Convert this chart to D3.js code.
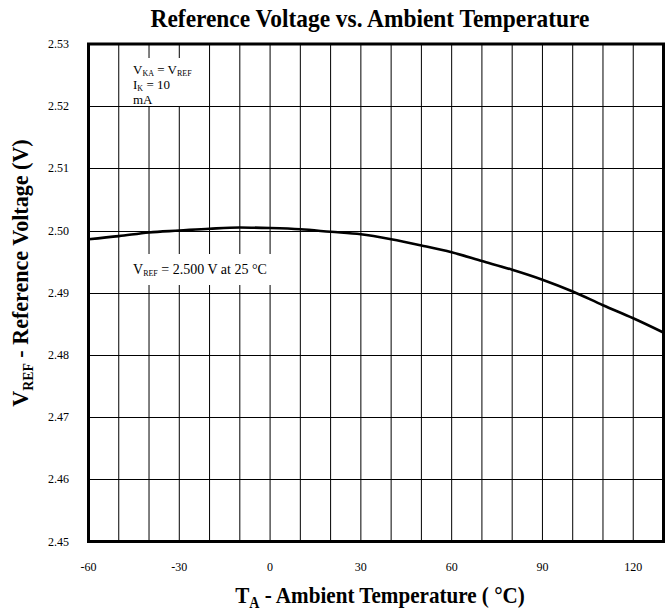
<!DOCTYPE html>
<html>
<head>
<meta charset="utf-8">
<script src="https://cdn.jsdelivr.net/npm/d3@7"></script>
<style>
  body { margin: 0; background: #fff; }
  svg { display: block; }
  text { font-family: 'Liberation Serif', 'DejaVu Serif', serif; }
</style>
</head>
<body>
<svg id="chart" width="671" height="611"></svg>
<script>
// temperature (°C) and reference voltage (V)
const temps = [-60, -50, -40, -30, -20, -10, 0, 10, 20, 30, 40, 50, 60, 70, 80, 90, 100, 110, 120, 130];
const vref = [2.4986, 2.4991, 2.4997, 2.5000, 2.5003, 2.5005, 2.5004, 2.5002, 2.4998, 2.4994,
              2.4986, 2.4976, 2.4965, 2.4951, 2.4937, 2.4921, 2.4902, 2.4880, 2.4859, 2.4836];

const xTicks = [-60, -30, 0, 30, 60, 90, 120];
const yTicks = [2.45, 2.46, 2.47, 2.48, 2.49, 2.50, 2.51, 2.52, 2.53];
const xGrid = d3.range(-60, 131, 10);

const mLeft = 88.5, mTop = 44, w = 575, h = 497.5;
const serif = "'Liberation Serif', 'DejaVu Serif', serif";

const svg = d3.select('#chart').attr('font-family', serif);

const x = d3.scaleLinear().domain([-60, 130]).range([mLeft, mLeft + w]);
const y = d3.scaleLinear().domain([2.45, 2.53]).range([mTop + h, mTop]);

// grid
svg.append('g')
  .selectAll('line')
  .data(xGrid)
  .enter().append('line')
  .attr('x1', d => x(d)).attr('x2', d => x(d))
  .attr('y1', mTop).attr('y2', mTop + h)
  .attr('stroke', '#000').attr('stroke-width', 1);

svg.append('g')
  .selectAll('line')
  .data(yTicks)
  .enter().append('line')
  .attr('x1', mLeft).attr('x2', mLeft + w)
  .attr('y1', d => Math.round(y(d)) + 0.5).attr('y2', d => Math.round(y(d)) + 0.5)
  .attr('stroke', '#000').attr('stroke-width', 1);

// white boxes behind the notes
svg.append('rect').attr('x', 121).attr('y', 58).attr('width', 78).attr('height', 48).attr('fill', '#fff');
svg.append('rect').attr('x', 122).attr('y', 254).attr('width', 160).attr('height', 31).attr('fill', '#fff');

// curve
const line = d3.line()
  .x((d, i) => x(temps[i]))
  .y(d => y(d))
  .curve(d3.curveMonotoneX);

svg.append('path')
  .datum(vref)
  .attr('d', line)
  .attr('fill', 'none')
  .attr('stroke', '#000')
  .attr('stroke-width', 2.6);

// frame
svg.append('rect')
  .attr('x', mLeft).attr('y', mTop).attr('width', w).attr('height', h)
  .attr('fill', 'none').attr('stroke', '#000').attr('stroke-width', 3);

// tick labels
svg.append('g')
  .selectAll('text')
  .data(yTicks)
  .enter().append('text')
  .attr('x', 69).attr('y', d => y(d) + 4)
  .attr('text-anchor', 'end')
  .attr('font-size', 12)
  .text(d => d.toFixed(2));

svg.append('g')
  .selectAll('text')
  .data(xTicks)
  .enter().append('text')
  .attr('x', d => x(d)).attr('y', 571)
  .attr('text-anchor', 'middle')
  .attr('font-size', 12)
  .text(d => d);

// titles (the original uses a narrow bold serif, so squeeze a little)
svg.append('text')
  .attr('transform', 'translate(370,27) scale(0.9,1)')
  .attr('text-anchor', 'middle')
  .attr('font-size', 26).attr('font-weight', 'bold')
  .text('Reference Voltage vs. Ambient Temperature');

const xt = svg.append('text')
  .attr('transform', 'translate(380,603) scale(0.88,1)')
  .attr('text-anchor', 'middle')
  .attr('font-size', 24).attr('font-weight', 'bold');
xt.append('tspan').text('T');
xt.append('tspan').attr('font-size', 16).attr('dy', 5).text('A');
xt.append('tspan').attr('dy', -5).text(' - Ambient Temperature ( °C)');

const yt = svg.append('text')
  .attr('transform', 'translate(28,273) rotate(-90) scale(0.92,1)')
  .attr('text-anchor', 'middle')
  .attr('font-size', 24).attr('font-weight', 'bold');
yt.append('tspan').text('V');
yt.append('tspan').attr('font-size', 15).attr('dy', 5).text('REF');
yt.append('tspan').attr('dy', -5).text(' - Reference Voltage (V)');

// notes
const n1 = svg.append('text').attr('x', 133).attr('y', 74).attr('font-size', 13);
n1.append('tspan').text('V');
n1.append('tspan').attr('font-size', 8).attr('dy', 2).text('KA');
n1.append('tspan').attr('dy', -2).text(' = V');
n1.append('tspan').attr('font-size', 8).attr('dy', 2).text('REF');

const n2 = svg.append('text').attr('x', 133).attr('y', 89).attr('font-size', 13);
n2.append('tspan').text('I');
n2.append('tspan').attr('font-size', 8).attr('dy', 2).text('K');
n2.append('tspan').attr('dy', -2).text(' = 10');

svg.append('text').attr('x', 133).attr('y', 104).attr('font-size', 13).text('mA');

const n3 = svg.append('text').attr('x', 133).attr('y', 274).attr('font-size', 14);
n3.append('tspan').text('V');
n3.append('tspan').attr('font-size', 8).attr('dy', 2).text('REF');
n3.append('tspan').attr('dy', -2).text(' = 2.500 V at 25 °C');
</script>
</body>
</html>
